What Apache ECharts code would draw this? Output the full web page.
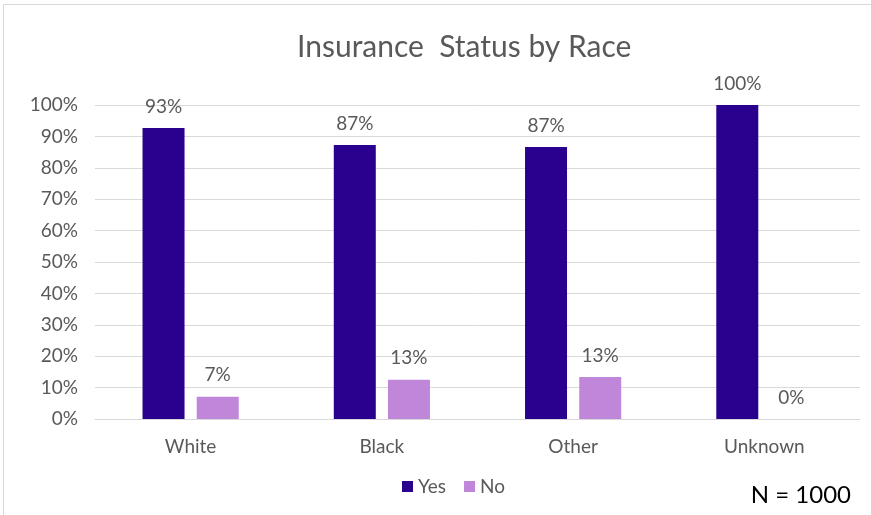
<!DOCTYPE html>
<html><head><meta charset="utf-8">
<script src="https://cdn.jsdelivr.net/npm/echarts@6/dist/echarts.min.js"></script>
<style>html,body{margin:0;padding:0;background:#fff}#c{width:871px;height:515px}</style>
</head><body><div id="c"></div>
<script>
const categories = ['White', 'Black', 'Other', 'Unknown'];
const yesValues = [92.7, 87.3, 86.6, 100];
const noValues = [7.1, 12.5, 13.4, 0];
const yTicks = [0, 10, 20, 30, 40, 50, 60, 70, 80, 90, 100];
const font = 'Lato, "Liberation Sans", sans-serif';
const chart = echarts.init(document.getElementById('c'));
const lbl = {show: true, position: 'top', distance: 12, color: '#595959', fontSize: 19, fontFamily: font,
  formatter: p => Math.round(p.value) + '%'};
chart.setOption({
  animation: false,
  title: {text: 'Insurance  Status by Race', left: 292, top: 27,
    textStyle: {color: '#595959', fontSize: 30, fontWeight: 'normal', fontFamily: font}},
  graphic: [
    {type: 'rect', shape: {x: 3.5, y: 4.5, width: 870, height: 512}, style: {fill: 'none', stroke: '#d9d9d9', lineWidth: 1}},
    {type: 'text', right: 20, top: 483, style: {text: 'N = 1000', fill: '#000', fontSize: 24, fontFamily: font}}
  ],
  legend: {data: ['Yes', 'No'], left: 397, top: 472, itemWidth: 11, itemHeight: 11, itemGap: 18,
    icon: 'rect', textStyle: {color: '#595959', fontSize: 19, fontFamily: font}},
  grid: {left: 95, right: 11, top: 105, bottom: 96},
  xAxis: {type: 'category', data: categories, axisTick: {show: false},
    axisLine: {lineStyle: {color: '#d9d9d9'}},
    axisLabel: {color: '#595959', fontSize: 19, fontFamily: font, margin: 18}},
  yAxis: {type: 'value', min: 0, max: 100, interval: 10,
    axisLabel: {color: '#595959', fontSize: 19, fontFamily: font, margin: 17,
      formatter: v => yTicks.includes(v) ? v + '%' : ''},
    splitLine: {lineStyle: {color: '#d9d9d9'}}},
  series: [
    {name: 'Yes', type: 'bar', data: yesValues, barWidth: 42, barGap: '29%', itemStyle: {color: '#2A008F'}, label: lbl},
    {name: 'No', type: 'bar', data: noValues, barWidth: 42, itemStyle: {color: '#C086DA'}, label: lbl}
  ]
});
</script></body></html>
